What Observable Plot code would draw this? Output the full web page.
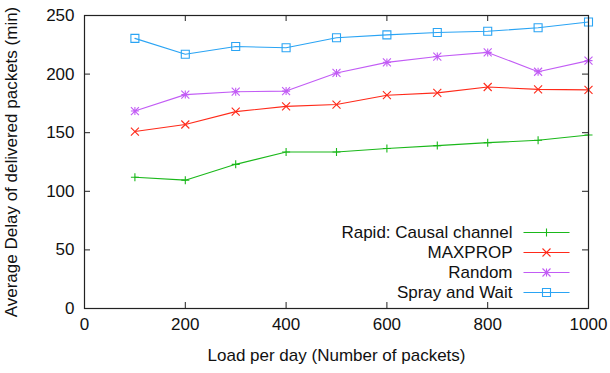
<!DOCTYPE html>
<html>
<head>
<meta charset="utf-8">
<script src="https://cdn.jsdelivr.net/npm/d3@7"></script>
<script src="https://cdn.jsdelivr.net/npm/@observablehq/plot@0.6"></script>
<style>
  html, body { margin: 0; padding: 0; background: #fff; }
</style>
</head>
<body>
<div id="chart"></div>
<script>
// ---- data ----
const loads = [100, 200, 300, 400, 500, 600, 700, 800, 900, 1000];
const seriesNames = ["Rapid: Causal channel", "MAXPROP", "Random", "Spray and Wait"];
const rapid   = [112, 109.5, 123, 133.5, 133.5, 136.5, 139, 141.5, 143.5, 148];
const maxprop = [151, 157, 168, 172.5, 174, 182, 184, 189, 187, 186.5];
const random  = [168.5, 182.5, 185, 185.5, 201, 210, 215, 218.5, 202, 211.5];
const spray   = [230.5, 217, 223.5, 222.5, 231, 233.5, 235.5, 236.5, 239.5, 244.5];
const xTicks = [0, 200, 400, 600, 800, 1000];
const yTicks = [0, 50, 100, 150, 200, 250];

// ---- styles ----
const colors = ["#1ab81a", "#ff2a1a", "#c25cf5", "#2aa4f4"];
const font = "'Liberation Sans', Arial, Helvetica, sans-serif";
const W = 610, H = 373, ML = 84, MR = 22, MT = 15, MB = 65, TICK = 6;
const frameW = W - ML - MR, frameH = H - MT - MB;

function sym(fn) { return { draw(ctx) { fn(ctx); } }; }
const h = 4;
const symPlus = sym(c => { c.moveTo(-h, 0); c.lineTo(h, 0); c.moveTo(0, -h); c.lineTo(0, h); });
const symTimes = sym(c => { c.moveTo(-h, -h); c.lineTo(h, h); c.moveTo(-h, h); c.lineTo(h, -h); });
const symStar = sym(c => {
  c.moveTo(-h, 0); c.lineTo(h, 0); c.moveTo(0, -h); c.lineTo(0, h);
  c.moveTo(-h, -h); c.lineTo(h, h); c.moveTo(-h, h); c.lineTo(h, -h);
});
const symSquare = sym(c => { c.rect(-h, -h, 2 * h, 2 * h); });
const symbols = [symPlus, symTimes, symStar, symSquare];
const legendLine = sym(c => { c.moveTo(-23, 0); c.lineTo(23, 0); });

const values = [rapid, maxprop, random, spray];
const rows = [];
seriesNames.forEach((name, i) => {
  loads.forEach((x, j) => rows.push({ series: name, idx: i, load: x, delay: values[i][j] }));
});

const marks = [];
seriesNames.forEach((name, i) => {
  const d = rows.filter(r => r.idx === i);
  marks.push(Plot.line(d, { x: "load", y: "delay", stroke: colors[i], strokeWidth: 1.1 }));
  marks.push(Plot.dot(d, { x: "load", y: "delay", symbol: () => symbols[i], r: 4, stroke: colors[i], fill: "none", strokeWidth: 1.1 }));
  // legend
  const dy = -76 + i * 20;
  marks.push(Plot.text([name], { frameAnchor: "bottom-right", text: d => d, dx: -76, dy, textAnchor: "end", lineAnchor: "middle", fontSize: 17, fill: "#111" }));
  marks.push(Plot.dot([name], { frameAnchor: "bottom-right", dx: -42, dy, symbol: () => legendLine, stroke: colors[i], strokeWidth: 1.1 }));
  marks.push(Plot.dot([name], { frameAnchor: "bottom-right", dx: -42, dy, symbol: () => symbols[i], r: 4, stroke: colors[i], fill: "none", strokeWidth: 1.1 }));
});

const chart = Plot.plot({
  width: W,
  height: H,
  marginLeft: ML,
  marginRight: MR,
  marginTop: MT,
  marginBottom: MB,
  style: { fontFamily: font, fontSize: "17px", background: "#fff", color: "#111" },
  x: { domain: [0, 1000] },
  y: { domain: [0, 250] },
  symbol: { type: "identity" },
  marks: [
    ...marks,
    // inward mirrored ticks
    Plot.tickX(xTicks, { x: d => d, insetTop: frameH - TICK, stroke: "#222" }),
    Plot.tickX(xTicks, { x: d => d, insetBottom: frameH - TICK, stroke: "#222" }),
    Plot.tickY(yTicks, { y: d => d, insetRight: frameW - TICK, stroke: "#222" }),
    Plot.tickY(yTicks, { y: d => d, insetLeft: frameW - TICK, stroke: "#222" }),
    Plot.frame({ stroke: "#222", strokeWidth: 1.2 }),
    Plot.axisX(xTicks, { anchor: "bottom", tickSize: 0, tickPadding: 9, fontSize: 17, fill: "#111",
      tickFormat: d => String(d),
      label: "Load per day (Number of packets)", labelAnchor: "center", labelOffset: 52, labelArrow: "none" }),
    Plot.axisY(yTicks, { anchor: "left", tickSize: 0, tickPadding: 10, fontSize: 17, fill: "#111",
      tickFormat: d => String(d),
      label: "Average Delay of delivered packets (min)", labelAnchor: "center", labelOffset: 80, labelArrow: "none" })
  ]
});

document.getElementById("chart").appendChild(chart);
</script>
</body>
</html>
